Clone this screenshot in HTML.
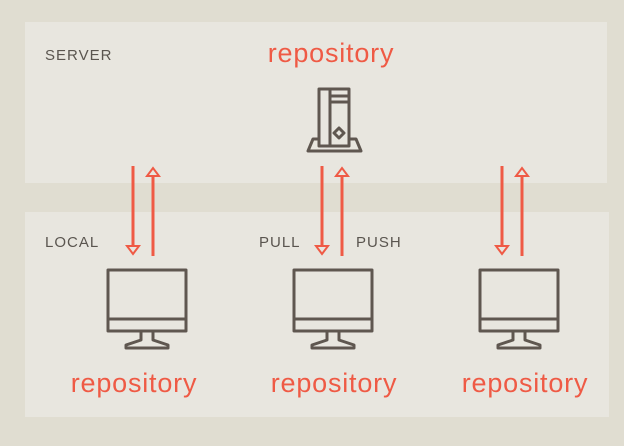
<!DOCTYPE html>
<html><head><style>
body{margin:0;width:624px;height:441px;background:#e0ddd1;overflow:hidden}
</style></head><body>
<svg width="624" height="441" xmlns="http://www.w3.org/2000/svg" font-family="Liberation Sans, sans-serif">
<rect x="0" y="0" width="624" height="441" fill="#e0ddd1"/>
<rect x="25" y="22" width="582" height="161" fill="#e8e6df"/>
<rect x="25" y="212" width="584" height="205" fill="#e8e6df"/>
<g font-size="15" fill="#5a554f" letter-spacing="1">
<text x="45" y="60">SERVER</text>
<text x="45" y="247">LOCAL</text>
<text x="259" y="247">PULL</text>
<text x="356" y="247">PUSH</text>
</g>
<g font-size="27" fill="#ef5a45" text-anchor="middle" letter-spacing="0.8">
<text x="331" y="62">repository</text>
<text x="134" y="392">repository</text>
<text x="334" y="392">repository</text>
<text x="525" y="392">repository</text>
</g>
<g stroke="#5f5750" stroke-width="3" fill="none" stroke-linejoin="round">
<rect x="319" y="89" width="30" height="57"/>
<line x1="330" y1="89" x2="330" y2="146"/>
<line x1="330" y1="96" x2="349" y2="96"/>
<line x1="330" y1="102" x2="349" y2="102"/>
<path d="M339 128 L344 133 L339 138 L334 133 Z"/>
<path d="M319 139 L313 139 L308 151 L361 151 L356 139 L349 139"/>
</g>
<g id="m" stroke="#5f5750" stroke-width="3" fill="none" stroke-linejoin="round">
<rect x="108" y="270" width="78" height="61"/>
<line x1="108" y1="319" x2="186" y2="319"/>
<path d="M141 331 L141 340 L126 345 L126 348 L168 348 L168 345 L153 340 L153 331"/>
</g>
<use href="#m" x="186"/>
<use href="#m" x="372"/>
<g id="a" stroke="#ef5a45" stroke-width="3" fill="none">
<line x1="133" y1="166" x2="133" y2="246"/>
<path d="M127 246 L139 246 L133 254 Z" stroke-width="2"/>
<line x1="153" y1="256" x2="153" y2="176"/>
<path d="M147 176 L159 176 L153 168 Z" stroke-width="2"/>
</g>
<use href="#a" x="189"/>
<use href="#a" x="369"/>
</svg>
</body></html>
